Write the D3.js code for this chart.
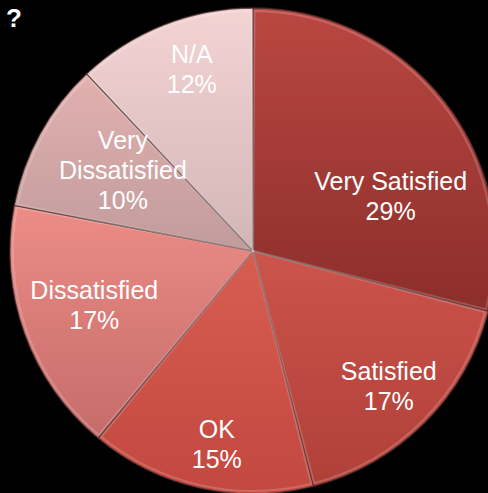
<!DOCTYPE html>
<html lang="en">
<head>
	<meta charset="utf-8">
	<title>Satisfaction</title>
	<script src="https://d3js.org/d3.v7.min.js"></script>
	<style>
		body { margin: 0; background: #000; }
		svg { display: block; background: #000; }
		.lbl { font-family: "Liberation Sans", Arial, sans-serif; font-size: 25px; fill: #fff; }
	</style>
</head>
<body>
	<svg id="pie" width="488" height="493"></svg>
	<script>
		// data
		var categories = ['Very Satisfied', 'Satisfied', 'OK', 'Dissatisfied', 'Very Dissatisfied', 'N/A'];
		var values = [29, 17, 15, 17, 10, 12];
		var labelLines = [['Very Satisfied', '29%'], ['Satisfied', '17%'], ['OK', '15%'],
			['Dissatisfied', '17%'], ['Very', 'Dissatisfied', '10%'], ['N/A', '12%']];

		// look
		var topColors = ['#ba4741', '#cc544b', '#d85d51', '#ec8c87', '#e2b0af', '#f4d3d3'];
		var bottomColors = ['#8c2e2b', '#af4039', '#c24840', '#c56c69', '#c09c9b', '#d2b6b6'];
		// label radius (fraction of r) and angle nudge (deg), PowerPoint-ish best fit
		var labelR = [0.61, 0.79, 0.81, 0.69, 0.63, 0.79];
		var labelNudge = [16, 0, -2, 1, 3, 3];

		var svg = d3.select('#pie'),
			cx = 253, cy = 251, r = 243;

		var defs = svg.append('defs');
		categories.forEach(function(c, i) {
			var gr = defs.append('linearGradient')
				.attr('id', 'g' + i)
				.attr('x1', 0).attr('y1', 0).attr('x2', 0).attr('y2', 1);
			gr.append('stop').attr('offset', '0%').attr('stop-color', topColors[i]);
			gr.append('stop').attr('offset', '100%').attr('stop-color', bottomColors[i]);
		});

		var pie = d3.pie().sort(null).value(function(d) { return d; });
		var arc = d3.arc().innerRadius(0).outerRadius(r);
		var arcs = pie(values);

		var g = svg.append('g').attr('transform', 'translate(' + cx + ',' + cy + ')');

		g.selectAll('path.slice')
			.data(arcs)
			.enter().append('path')
			.attr('class', 'slice')
			.attr('d', arc)
			.attr('fill', function(d, i) { return 'url(#g' + i + ')'; })
			.attr('stroke', 'rgba(70,45,45,0.75)')
			.attr('stroke-width', 1.3);

		// soft highlight along inner edges (bevel look)
		g.selectAll('path.hl')
			.data(arcs)
			.enter().append('path')
			.attr('class', 'hl')
			.attr('d', d3.arc().innerRadius(0).outerRadius(r - 3).padAngle(0.012))
			.attr('fill', 'none')
			.attr('stroke', 'rgba(255,255,255,0.18)')
			.attr('stroke-width', 2);

		var lg = g.selectAll('text.lbl')
			.data(arcs)
			.enter().append('text')
			.attr('class', 'lbl')
			.attr('text-anchor', 'middle')
			.attr('transform', function(d, i) {
				var a = (d.startAngle + d.endAngle) / 2 + labelNudge[i] * Math.PI / 180,
					rr = r * labelR[i];
				return 'translate(' + (Math.sin(a) * rr) + ',' + (-Math.cos(a) * rr) + ')';
			});

		lg.each(function(d, i) {
			var lines = labelLines[i], t = d3.select(this), lh = 30;
			lines.forEach(function(s, k) {
				t.append('tspan')
					.attr('x', 0)
					.attr('y', (k - (lines.length - 1) / 2) * lh)
					.attr('dy', '0.35em')
					.text(s);
			});
		});

		// trailing piece of the cropped title
		svg.append('text')
			.attr('x', 6).attr('y', 27)
			.attr('font-family', 'Liberation Sans, Arial, sans-serif')
			.attr('font-size', 26)
			.attr('font-weight', 'bold')
			.attr('fill', '#fff')
			.text('?');
	</script>
</body>
</html>
